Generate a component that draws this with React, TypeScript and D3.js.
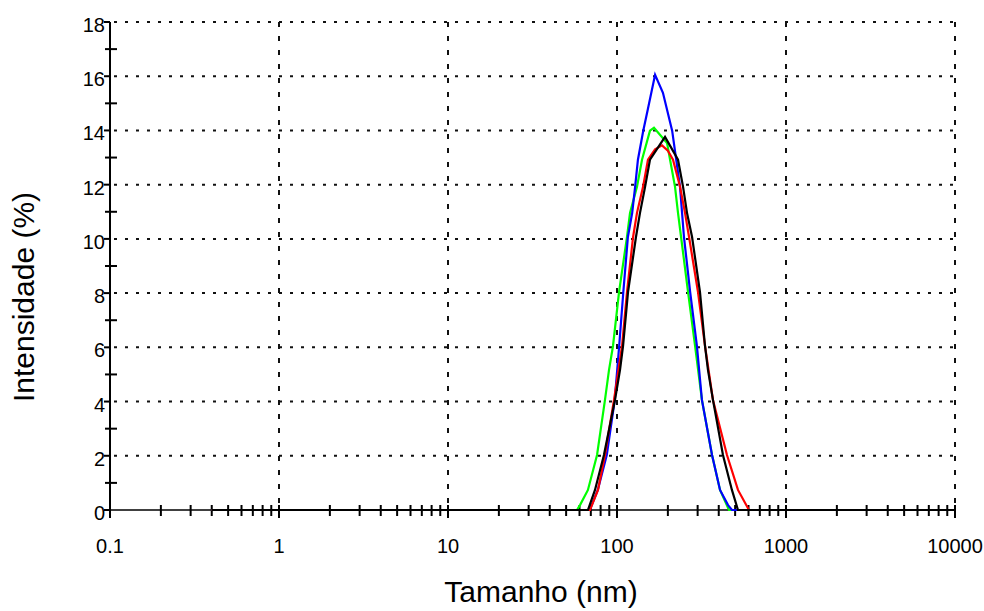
import React from "react";
import * as d3 from "d3";

const yTicks = [0, 2, 4, 6, 8, 10, 12, 14, 16, 18];
const yMinorTicks = [1, 3, 5, 7, 9, 11, 13, 15, 17];
const xTicks = [0.1, 1, 10, 100, 1000, 10000];
const xTickLabels = ["0.1", "1", "10", "100", "1000", "10000"];

// Size (nm) and intensity (%) per sample
const greenSize = [0.4, 58, 60.4, 67.3, 76.2, 84.9, 89.7, 94.7, 102.8, 114.6, 119.4, 131.3, 140.6, 156.7, 165.5, 197.7, 206.1, 220.5, 229.6, 239.4, 263.3, 289.7, 318, 365, 407, 460, 10000];
const greenInt = [0, 0, 0.18, 0.74, 2.03, 4.06, 5.17, 6.05, 8.04, 10.07, 10.96, 11.92, 12.92, 13.99, 14.1, 13.54, 12.92, 11.92, 10.96, 10.07, 8.04, 6.05, 4.06, 2.03, 0.74, 0, 0];

const blueSize = [0.4, 69, 77, 87, 97, 103, 109, 116, 123, 128, 133, 143, 152, 168, 187, 212, 236, 249, 271, 297, 318, 365, 407, 454, 479, 10000];
const blueInt = [0, 0, 0.74, 2.03, 4.06, 6.05, 8.04, 10.07, 10.96, 11.92, 12.92, 13.99, 14.76, 16.05, 15.39, 13.99, 11.92, 10.07, 8.04, 6.05, 4.06, 2.03, 0.74, 0.18, 0, 0];

const redSize = [0.4, 69.2, 77.2, 84.9, 96, 107.1, 114.6, 124.5, 131.3, 142.6, 152.5, 168, 184.6, 200, 214.5, 236.1, 252.6, 266.9, 301.5, 331.7, 369.7, 447.4, 519.8, 603.9, 10000];
const redInt = [0, 0, 0.74, 2.03, 4.06, 6.05, 8.04, 10.07, 10.96, 11.92, 12.92, 13.3, 13.45, 13.25, 12.92, 11.92, 10.96, 10.07, 8.04, 6.05, 4.06, 2.03, 0.74, 0, 0];

const blackSize = [0.4, 67.3, 74.1, 83.7, 97.3, 104.2, 108.6, 116.2, 129.5, 136.8, 146.6, 156.7, 192.4, 229.6, 246, 259.6, 278.1, 309.8, 331.7, 345.3, 369.7, 423.6, 478.6, 519.8, 10000];
const blackInt = [0, 0, 0.74, 2.03, 4.06, 5.17, 6.05, 8.04, 10.07, 10.96, 11.92, 12.92, 13.76, 12.92, 11.92, 10.96, 10.07, 8.04, 6.05, 5.17, 4.06, 2.03, 0.74, 0, 0];

const seriesNames = ["green", "blue", "red", "black"];
const seriesColors = ["#00ff00", "#0000ff", "#ff0000", "#000000"];
const seriesSizes = [greenSize, blueSize, redSize, blackSize];
const seriesInts = [greenInt, blueInt, redInt, blackInt];

const minorFactors = [2, 3, 4, 5, 6, 7, 8, 9];

export default function App() {
  const x = d3.scaleLog().domain([0.1, 10000]).range([110, 955]);
  const y = d3.scaleLinear().domain([0, 18]).range([510, 22]);
  const line = d3
    .line<[number, number]>()
    .x((d) => x(d[0]))
    .y((d) => y(d[1]));

  const xMinor: number[] = [];
  for (let i = 0; i < xTicks.length - 1; i++) {
    minorFactors.forEach((f) => xMinor.push(xTicks[i] * f));
  }

  const font = "'Liberation Sans', Arial, sans-serif";

  return (
    <svg
      width={984}
      height={611}
      style={{ position: "absolute", left: 0, top: 0, background: "#fff" }}
    >
      <rect x={0} y={0} width={984} height={611} fill="#fff" />
      {/* horizontal grid */}
      {yTicks.slice(1).map((t) => (
        <line
          key={"hg" + t}
          x1={x(0.1)}
          x2={x(10000)}
          y1={y(t)}
          y2={y(t)}
          stroke="#111"
          strokeWidth={2}
          strokeDasharray="3,8"
          strokeDashoffset={-4}
        />
      ))}
      {/* vertical grid */}
      {xTicks.slice(1).map((t) => (
        <line
          key={"vg" + t}
          x1={x(t)}
          x2={x(t)}
          y1={y(18)}
          y2={y(0)}
          stroke="#111"
          strokeWidth={2}
          strokeDasharray="5,9"
        />
      ))}
      {/* axes */}
      <line x1={x(0.1)} x2={x(0.1)} y1={y(18)} y2={y(0) + 7} stroke="#000" strokeWidth={2} />
      <line x1={x(0.1) - 6} x2={x(10000)} y1={y(0)} y2={y(0)} stroke="#000" strokeWidth={1.5} />
      {yTicks.map((t) => (
        <line key={"yt" + t} x1={x(0.1) - 6} x2={x(0.1)} y1={y(t)} y2={y(t)} stroke="#000" strokeWidth={2} />
      ))}
      {yMinorTicks.map((t) => (
        <line key={"ym" + t} x1={x(0.1) - 5} x2={x(0.1) + 7} y1={y(t)} y2={y(t)} stroke="#000" strokeWidth={2} />
      ))}
      {xTicks.map((t) => (
        <line key={"xt" + t} x1={x(t)} x2={x(t)} y1={y(0) - 5} y2={y(0) + 8} stroke="#000" strokeWidth={2} />
      ))}
      {xMinor.map((t, i) => (
        <line key={"xm" + i} x1={x(t)} x2={x(t)} y1={y(0) - 5} y2={y(0) + 6} stroke="#000" strokeWidth={2} />
      ))}
      {/* series */}
      {seriesNames.map((n, i) => {
        const pts: [number, number][] = seriesSizes[i].map((s, j) => [s, seriesInts[i][j]]);
        return (
          <path
            key={n}
            d={line(pts) || ""}
            fill="none"
            stroke={seriesColors[i]}
            strokeWidth={2.2}
            strokeLinejoin="miter"
          />
        );
      })}
      {/* tick labels */}
      {yTicks.map((t) => (
        <text
          key={"yl" + t}
          x={x(0.1) - 5}
          y={y(t) + 10}
          textAnchor="end"
          fontFamily={font}
          fontSize={20}
          fill="#000"
        >
          {t}
        </text>
      ))}
      {xTicks.map((t, i) => (
        <text
          key={"xl" + t}
          x={x(t)}
          y={553}
          textAnchor="middle"
          fontFamily={font}
          fontSize={20}
          fill="#000"
        >
          {xTickLabels[i]}
        </text>
      ))}
      {/* axis titles */}
      <text x={541} y={602} textAnchor="middle" fontFamily={font} fontSize={30} fill="#000">
        Tamanho (nm)
      </text>
      <text
        transform={`translate(34,297) rotate(-90)`}
        textAnchor="middle"
        fontFamily={font}
        fontSize={30}
        fill="#000"
      >
        Intensidade (%)
      </text>
    </svg>
  );
}
